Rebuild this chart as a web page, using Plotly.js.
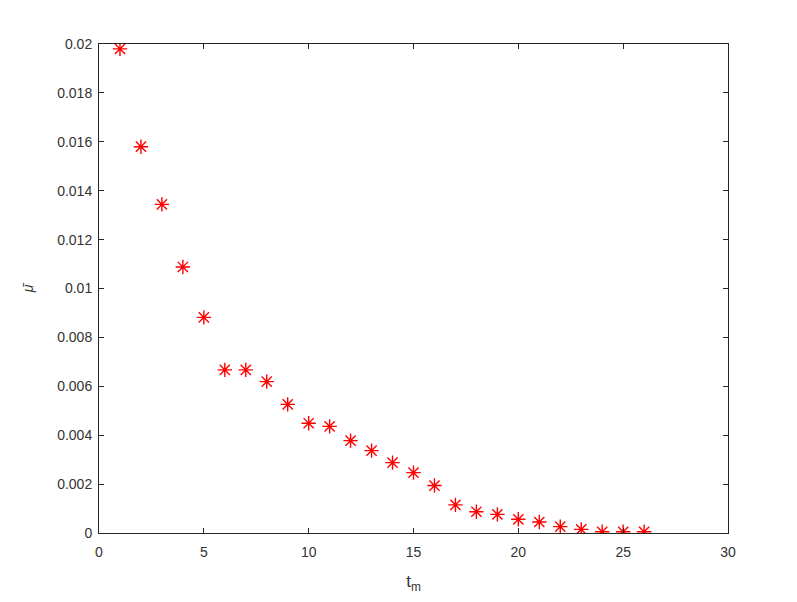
<!DOCTYPE html>
<html>
<head>
<meta charset="utf-8">
<script src="https://cdn.plot.ly/plotly-3.0.1.min.js"></script>
<style>
  html, body { margin: 0; padding: 0; background: #fff; }
  #plot { width: 797px; height: 602px; }
</style>
</head>
<body>
<div id="plot"></div>
<script>
// t_m step and the estimated mu-bar at each step
const tm = [1, 2, 3, 4, 5, 6, 7, 8, 9, 10, 11, 12, 13, 14, 15, 16, 17, 18, 19, 20, 21, 22, 23, 24, 25, 26];
const muBar = [0.0198, 0.0158, 0.01344, 0.01088, 0.00882, 0.00667, 0.00667, 0.00619, 0.00526, 0.00449,
  0.00436, 0.00378, 0.00337, 0.00288, 0.00247, 0.00194, 0.00115, 0.00087, 0.00076, 0.00056,
  0.00045, 0.00026, 0.00015, 0.00005, 0.00005, 0.00005];

const xTicks = [0, 5, 10, 15, 20, 25, 30];
const yTicks = [0, 0.002, 0.004, 0.006, 0.008, 0.01, 0.012, 0.014, 0.016, 0.018, 0.02];
const yTickText = ['0', '0.002', '0.004', '0.006', '0.008', '0.01', '0.012', '0.014', '0.016', '0.018', '0.02'];

const AXIS = '#262626';
const FONT = 'Liberation Sans, Arial, sans-serif';

const axisBase = {
  showline: true, mirror: 'ticks', linecolor: AXIS, linewidth: 1,
  ticks: 'inside', ticklen: 5, tickcolor: AXIS, tickwidth: 1,
  showgrid: false, zeroline: false,
  tickfont: { family: FONT, size: 14, color: '#333333' },
};

Plotly.newPlot('plot', [{
  x: tm, y: muBar, type: 'scatter', mode: 'markers',
  marker: { symbol: 'asterisk-open', size: 12, color: '#ff0000', line: { color: '#ff0000', width: 1.4 } },
  hoverinfo: 'skip',
}], {
  width: 797, height: 602,
  margin: { l: 99, r: 69, t: 44, b: 69 },
  paper_bgcolor: '#ffffff', plot_bgcolor: '#ffffff',
  showlegend: false,
  font: { family: FONT, color: AXIS },
  xaxis: Object.assign({}, axisBase, {
    range: [0, 30], tickvals: xTicks, ticklabelstandoff: 6,
    title: { text: 't<sub>m</sub>', font: { family: FONT, size: 17, color: '#333333' }, standoff: 16 },
  }),
  yaxis: Object.assign({}, axisBase, {
    range: [0, 0.02], tickvals: yTicks, ticktext: yTickText, ticklabelstandoff: 3,
    title: { text: '<i>μ̄</i>', font: { family: FONT, size: 14, color: '#333333' }, standoff: 20 },
  }),
}, { displayModeBar: false, staticPlot: true });
</script>
</body>
</html>
